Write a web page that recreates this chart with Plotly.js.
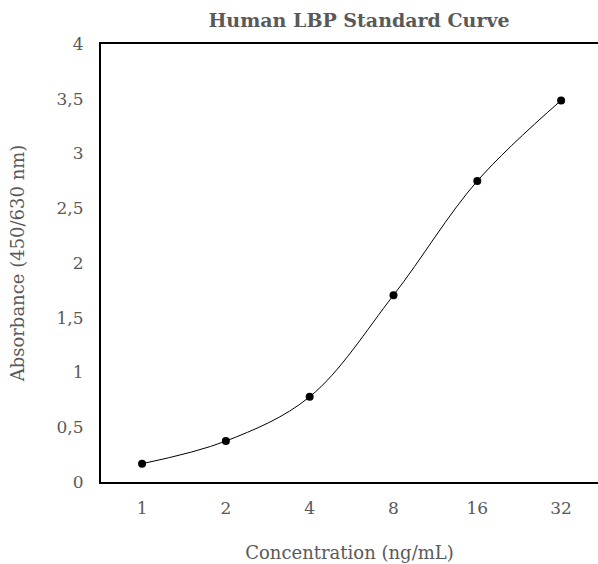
<!DOCTYPE html>
<html>
<head>
<meta charset="utf-8">
<script src="https://cdn.plot.ly/plotly-3.0.1.min.js"></script>
<style>html,body{margin:0;padding:0;background:#fff;overflow:hidden}</style>
</head>
<body>
<div id="chart" style="width:598px;height:564px"></div>
<script>
const concentrations = ["1", "2", "4", "8", "16", "32"];
const absorbance = [0.167, 0.374, 0.778, 1.706, 2.749, 3.485];
const yTicks = [0, 0.5, 1, 1.5, 2, 2.5, 3, 3.5, 4];

const FONT = "DejaVu Serif, Liberation Serif, serif";
const GREY = "#595959";

const trace = {
  x: concentrations,
  y: absorbance,
  type: "scatter",
  mode: "lines+markers",
  line: {shape: "spline", smoothing: 1, color: "#000000", width: 1},
  marker: {color: "#000000", size: 8},
  hoverinfo: "x+y"
};

const layout = {
  width: 598,
  height: 564,
  margin: {l: 101, r: 0, t: 44, b: 82},
  paper_bgcolor: "#ffffff",
  plot_bgcolor: "#ffffff",
  separators: ",.",
  showlegend: false,
  font: {family: FONT, color: GREY, size: 17},
  title: {
    text: "<b>Human LBP Standard Curve</b>",
    font: {family: FONT, size: 19, color: GREY},
    x: 359 / 598, xref: "container", xanchor: "center",
    y: 1 - 20 / 564, yref: "container", yanchor: "middle"
  },
  xaxis: {
    type: "category",
    range: [-0.49, 5.44],
    showline: true, mirror: true, linecolor: "#000000", linewidth: 2,
    showgrid: false, zeroline: false, ticks: "",
    ticklabelstandoff: 10,
    tickfont: {family: FONT, size: 17, color: GREY},
    title: {text: "Concentration (ng/mL)", font: {family: FONT, size: 18, color: GREY}, standoff: 29}
  },
  yaxis: {
    range: [0, 4],
    tickvals: yTicks,
    showline: true, mirror: false, linecolor: "#000000", linewidth: 2,
    showgrid: false, zeroline: false, ticks: "",
    ticklabelstandoff: 12,
    tickfont: {family: FONT, size: 17, color: GREY},
    title: {text: "Absorbance (450/630 nm)", font: {family: FONT, size: 18, color: GREY}, standoff: 27}
  }
};

Plotly.newPlot("chart", [trace], layout, {displayModeBar: false, staticPlot: true});
</script>
</body>
</html>
